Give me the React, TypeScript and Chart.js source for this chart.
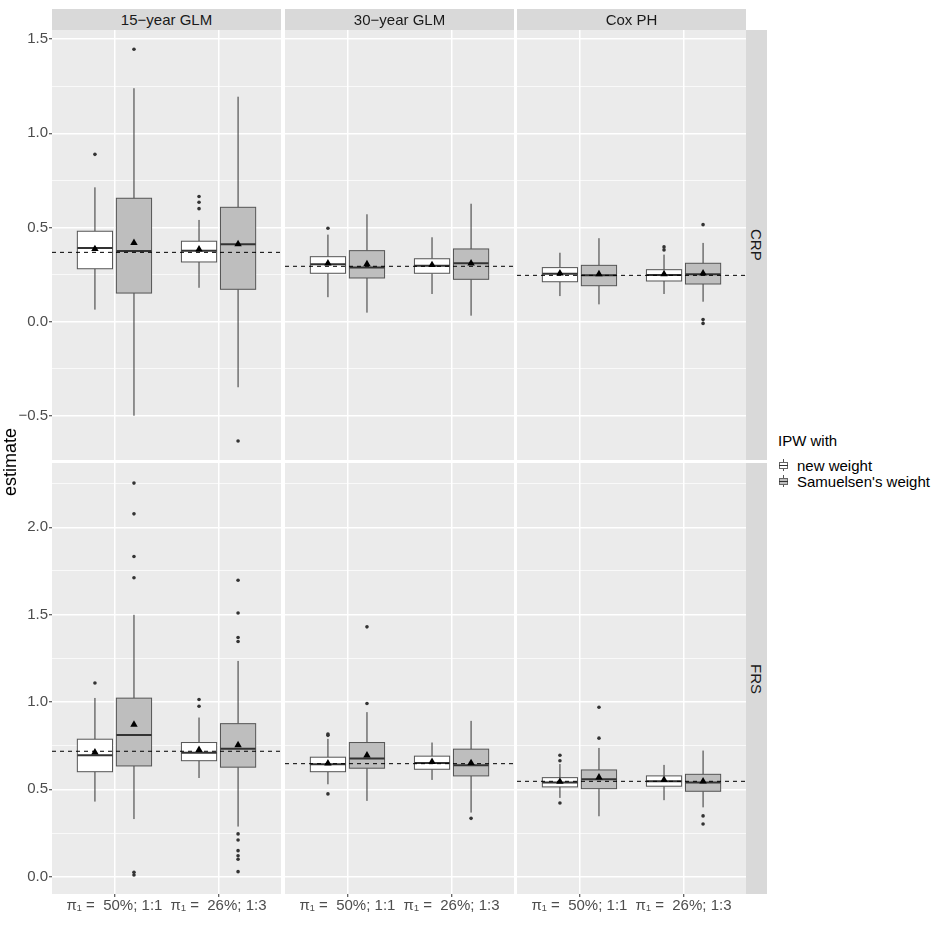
import React, { useEffect, useRef } from 'react';
import { Chart, registerables } from 'chart.js';
Chart.register(...registerables);

const FONT = '"Liberation Sans", Arial, Helvetica, sans-serif';

// ---------- categories / labels ----------
const modelNames = ['15\u2212year GLM', '30\u2212year GLM', 'Cox PH'];
const outcomeNames = ['CRP', 'FRS'];
const designPositions = [1, 2];
const designLabels = ['\u03C0\u2081 =  50%; 1:1', '\u03C0\u2081 =  26%; 1:3'];
const weightNames = ['new weight', "Samuelsen's weight"];
const legendTitle = 'IPW with';
const yTitle = 'estimate';

// ---------- box statistics ----------
// each row: [lower whisker, Q1, median, Q3, upper whisker, mean]
// order: 50% new, 50% Samuelsen, 26% new, 26% Samuelsen
const crpGlm15Stats = [
  [0.064, 0.281, 0.391, 0.48, 0.713, 0.386],
  [-0.499, 0.152, 0.375, 0.655, 1.239, 0.419],
  [0.18, 0.317, 0.377, 0.427, 0.54, 0.384],
  [-0.348, 0.172, 0.411, 0.607, 1.194, 0.412],
];
const crpGlm15Outliers = [[0.888], [1.446], [0.664, 0.634, 0.6], [-0.633]];

const crpGlm30Stats = [
  [0.13, 0.257, 0.305, 0.345, 0.462, 0.31],
  [0.048, 0.232, 0.287, 0.377, 0.57, 0.306],
  [0.147, 0.257, 0.297, 0.334, 0.448, 0.301],
  [0.032, 0.225, 0.31, 0.386, 0.626, 0.31],
];
const crpGlm30Outliers = [[0.496], [], [], []];

const crpCoxStats = [
  [0.136, 0.212, 0.255, 0.287, 0.366, 0.257],
  [0.092, 0.191, 0.246, 0.299, 0.443, 0.253],
  [0.147, 0.216, 0.248, 0.276, 0.356, 0.253],
  [0.106, 0.2, 0.252, 0.31, 0.418, 0.257],
];
const crpCoxOutliers = [[], [], [0.397, 0.381], [0.515, 0.011, -0.009]];

const frsGlm15Stats = [
  [0.43, 0.601, 0.695, 0.787, 1.023, 0.712],
  [0.33, 0.634, 0.811, 1.022, 1.499, 0.871],
  [0.565, 0.664, 0.71, 0.768, 0.911, 0.726],
  [0.287, 0.627, 0.733, 0.876, 1.235, 0.754],
];
const frsGlm15Outliers = [
  [1.109],
  [2.253, 2.077, 1.833, 1.711, 0.025, 0.01],
  [1.014, 0.976],
  [1.697, 1.509, 1.369, 1.346, 0.245, 0.21, 0.149, 0.12, 0.1, 0.029],
];

const frsGlm30Stats = [
  [0.529, 0.601, 0.644, 0.684, 0.789, 0.649],
  [0.434, 0.621, 0.676, 0.768, 0.942, 0.695],
  [0.554, 0.615, 0.651, 0.69, 0.768, 0.657],
  [0.367, 0.577, 0.638, 0.73, 0.892, 0.651],
];
const frsGlm30Outliers = [[0.817, 0.809, 0.474], [1.43, 0.991], [], [0.334]];

const frsCoxStats = [
  [0.451, 0.514, 0.539, 0.567, 0.645, 0.544],
  [0.346, 0.504, 0.558, 0.611, 0.737, 0.569],
  [0.438, 0.518, 0.546, 0.577, 0.64, 0.554],
  [0.397, 0.489, 0.539, 0.586, 0.722, 0.546],
];
const frsCoxOutliers = [[0.695, 0.664, 0.422], [0.97, 0.793], [], [0.348, 0.302]];

// reference (true) values, dashed lines
const crpTruth = [0.368, 0.294, 0.246];
const frsTruth = [0.718, 0.647, 0.546];

// axis ticks and limits
const crpTicks = [-0.5, 0, 0.5, 1, 1.5];
const crpMinorTicks = [-0.25, 0.25, 0.75, 1.25];
const frsTicks = [0, 0.5, 1, 1.5, 2];
const frsMinorTicks = [0.25, 0.75, 1.25, 1.75, 2.25];
const crpLimits = [-0.734, 1.548];
const frsLimits = [-0.099, 2.368];
const xLimits = [0.4, 2.6];

const STATS = [
  [crpGlm15Stats, crpGlm30Stats, crpCoxStats],
  [frsGlm15Stats, frsGlm30Stats, frsCoxStats],
];
const OUTLIERS = [
  [crpGlm15Outliers, crpGlm30Outliers, crpCoxOutliers],
  [frsGlm15Outliers, frsGlm30Outliers, frsCoxOutliers],
];
const TRUTH = [crpTruth, frsTruth];
const MAJOR = [crpTicks, frsTicks];
const MINOR = [crpMinorTicks, frsMinorTicks];
const LIMITS = [crpLimits, frsLimits];

// ---------- layout ----------
const COLS = [[52, 281], [285, 514], [517, 746]];
const ROWS = [[30, 460], [463, 894]];
const PAD = 14;
const XAXIS_H = 40;
const DODGE = 0.1875;
const BOX_HALF = 0.169;
const FILLS = ['#FFFFFF', '#BEBEBE'];

const xOf = (j: number) => designPositions[j >> 1] + (j % 2 === 0 ? -DODGE : DODGE);
const fmt = (v: number) => v.toFixed(1).replace('-', '\u2212');

const panelBg = {
  id: 'panelBg',
  beforeDraw(chart: any) {
    const { ctx, chartArea: a } = chart;
    ctx.save();
    ctx.fillStyle = '#EBEBEB';
    ctx.fillRect(a.left, a.top, a.right - a.left, a.bottom - a.top);
    ctx.restore();
  },
};

function makeBoxPlugin(stats: number[][]) {
  return {
    id: 'boxes',
    beforeDatasetsDraw(chart: any) {
      const { ctx, chartArea: a } = chart;
      const xs = chart.scales.x;
      const ys = chart.scales.y;
      ctx.save();
      ctx.beginPath();
      ctx.rect(a.left, a.top, a.right - a.left, a.bottom - a.top);
      ctx.clip();
      stats.forEach((s, j) => {
        const c = xOf(j);
        const xl = xs.getPixelForValue(c - BOX_HALF);
        const xr = xs.getPixelForValue(c + BOX_HALF);
        const xm = xs.getPixelForValue(c);
        const [lo, q1, med, q3, hi] = s;
        const yLo = ys.getPixelForValue(lo);
        const yQ1 = ys.getPixelForValue(q1);
        const yMed = ys.getPixelForValue(med);
        const yQ3 = ys.getPixelForValue(q3);
        const yHi = ys.getPixelForValue(hi);
        ctx.strokeStyle = '#333333';
        ctx.lineWidth = 1;
        ctx.beginPath();
        ctx.moveTo(xm, yHi);
        ctx.lineTo(xm, yQ3);
        ctx.moveTo(xm, yQ1);
        ctx.lineTo(xm, yLo);
        ctx.stroke();
        ctx.fillStyle = FILLS[j % 2];
        ctx.fillRect(xl, yQ3, xr - xl, yQ1 - yQ3);
        ctx.strokeStyle = '#555555';
        ctx.strokeRect(xl, yQ3, xr - xl, yQ1 - yQ3);
        ctx.strokeStyle = '#333333';
        ctx.lineWidth = 2;
        ctx.beginPath();
        ctx.moveTo(xl, yMed);
        ctx.lineTo(xr, yMed);
        ctx.stroke();
      });
      ctx.restore();
    },
  };
}

function Panel({ row, col }: { row: number; col: number }) {
  const ref = useRef<HTMLCanvasElement>(null);
  const left = col === 0 ? 0 : COLS[col][0];
  const width = COLS[col][1] - left;
  const top = ROWS[row][0] - PAD;
  const height = ROWS[row][1] - ROWS[row][0] + PAD + (row === 1 ? XAXIS_H : PAD);

  useEffect(() => {
    const stats = STATS[row][col];
    const outl = OUTLIERS[row][col];
    const truth = TRUTH[row][col];
    const major = MAJOR[row];
    const minor = MINOR[row];
    const lim = LIMITS[row];
    const allTicks = [...major, ...minor].sort((a, b) => a - b);
    const isMajor = (v: number) => major.includes(v);
    const tickFont = { family: FONT, size: 15 };

    const outlierData: { x: number; y: number }[] = [];
    outl.forEach((arr, j) => arr.forEach((v) => outlierData.push({ x: xOf(j), y: v })));
    const meanData = stats.map((s, j) => ({ x: xOf(j), y: s[5] }));
    const refData = [
      { x: xLimits[0], y: truth },
      { x: xLimits[1], y: truth },
    ];

    const chart = new Chart(ref.current as HTMLCanvasElement, {
      type: 'scatter',
      data: {
        datasets: [
          {
            type: 'line',
            data: refData,
            borderColor: '#000000',
            borderWidth: 1,
            borderDash: [4, 4],
            pointRadius: 0,
            fill: false,
            order: 0,
          } as any,
          {
            data: meanData,
            pointStyle: 'triangle',
            pointRadius: 4.3,
            backgroundColor: '#000000',
            borderWidth: 0,
            order: 1,
          },
          {
            data: outlierData,
            pointStyle: 'circle',
            pointRadius: 1.8,
            backgroundColor: '#333333',
            borderWidth: 0,
            order: 2,
          },
        ],
      },
      options: {
        responsive: false,
        animation: false,
        devicePixelRatio: 1,
        events: [],
        layout: {
          autoPadding: false,
          padding: { top: PAD, bottom: row === 1 ? 0 : PAD, left: 0, right: 0 },
        },
        plugins: { legend: { display: false }, tooltip: { enabled: false } },
        scales: {
          x: {
            type: 'linear',
            min: xLimits[0],
            max: xLimits[1],
            afterBuildTicks: (s: any) => {
              s.ticks = designPositions.map((v) => ({ value: v }));
            },
            afterFit: (s: any) => {
              s.height = row === 1 ? XAXIS_H : 0;
            },
            ticks: {
              display: row === 1,
              autoSkip: false,
              maxRotation: 0,
              padding: 0,
              font: tickFont,
              color: '#4D4D4D',
              callback: (v: any) => designLabels[designPositions.indexOf(Number(v))] ?? '',
            },
            grid: {
              color: '#FFFFFF',
              lineWidth: 1.5,
              drawTicks: row === 1,
              tickLength: 3,
              tickColor: '#333333',
              tickWidth: 1,
            },
            border: { display: false },
          },
          y: {
            type: 'linear',
            min: lim[0],
            max: lim[1],
            afterBuildTicks: (s: any) => {
              s.ticks = allTicks.map((v) => ({ value: v }));
            },
            afterFit: (s: any) => {
              s.width = col === 0 ? COLS[0][0] : 0;
            },
            ticks: {
              display: col === 0,
              autoSkip: false,
              padding: 1,
              font: tickFont,
              color: '#4D4D4D',
              callback: (v: any) => (isMajor(Number(v)) ? fmt(Number(v)) : ''),
            },
            grid: {
              color: '#FFFFFF',
              lineWidth: (c: any) => (c.tick && isMajor(c.tick.value) ? 1.5 : 0.7),
              drawTicks: col === 0,
              tickLength: 3,
              tickColor: (c: any) => (c.tick && isMajor(c.tick.value) ? '#333333' : 'rgba(0,0,0,0)'),
              tickWidth: 1,
            },
            border: { display: false },
          },
        },
      } as any,
      plugins: [panelBg, makeBoxPlugin(stats)],
    });
    return () => chart.destroy();
  }, [row, col]);

  return (
    <canvas
      ref={ref}
      width={width}
      height={height}
      style={{ position: 'absolute', left, top, width, height }}
    />
  );
}

function KeyGlyph({ fill, top }: { fill: string; top: number }) {
  return (
    <div style={{ position: 'absolute', left: 779, top, width: 9, height: 12 }}>
      <div style={{ position: 'absolute', left: 4, top: 0, width: 1, height: 12, background: '#555555' }} />
      <div
        style={{
          position: 'absolute',
          left: 0,
          top: 3,
          width: 9,
          height: 7,
          background: fill,
          border: '1px solid #666666',
          boxSizing: 'border-box',
        }}
      />
      <div style={{ position: 'absolute', left: 0, top: 6, width: 9, height: 1, background: '#333333' }} />
    </div>
  );
}

export default function App() {
  const panels = [];
  for (let r = 0; r < 2; r++) for (let c = 0; c < 3; c++) panels.push(<Panel key={`${r}-${c}`} row={r} col={c} />);
  return (
    <div
      style={{
        position: 'absolute',
        left: 0,
        top: 0,
        width: 941,
        height: 941,
        background: '#FFFFFF',
        fontFamily: FONT,
        overflow: 'hidden',
      }}
    >
      {panels}
      {modelNames.map((m, c) => (
        <div
          key={m}
          style={{
            position: 'absolute',
            left: COLS[c][0],
            top: 9,
            width: COLS[c][1] - COLS[c][0],
            height: 21,
            background: '#D9D9D9',
            color: '#1A1A1A',
            fontSize: 15,
            display: 'flex',
            alignItems: 'center',
            justifyContent: 'center',
            whiteSpace: 'nowrap',
          }}
        >
          {m}
        </div>
      ))}
      {outcomeNames.map((o, r) => (
        <div
          key={o}
          style={{
            position: 'absolute',
            left: COLS[2][1],
            top: ROWS[r][0],
            width: 21,
            height: ROWS[r][1] - ROWS[r][0],
            background: '#D9D9D9',
            color: '#1A1A1A',
            fontSize: 15,
            display: 'flex',
            alignItems: 'center',
            justifyContent: 'center',
          }}
        >
          <span style={{ writingMode: 'vertical-rl', whiteSpace: 'nowrap' }}>{o}</span>
        </div>
      ))}
      <div
        style={{
          position: 'absolute',
          left: 10,
          top: 462,
          transform: 'translate(-50%, -50%) rotate(-90deg)',
          fontSize: 18,
          lineHeight: '20px',
          color: '#000000',
          whiteSpace: 'nowrap',
        }}
      >
        {yTitle}
      </div>
      <div
        style={{
          position: 'absolute',
          left: 778,
          top: 433,
          fontSize: 15,
          lineHeight: '15px',
          color: '#000000',
          whiteSpace: 'nowrap',
        }}
      >
        {legendTitle}
      </div>
      <KeyGlyph fill={FILLS[0]} top={459} />
      <KeyGlyph fill={FILLS[1]} top={475} />
      {weightNames.map((w, i) => (
        <div
          key={w}
          style={{
            position: 'absolute',
            left: 797,
            top: i === 0 ? 458 : 474,
            fontSize: 15,
            lineHeight: '15px',
            color: '#000000',
            whiteSpace: 'nowrap',
          }}
        >
          {w}
        </div>
      ))}
    </div>
  );
}
